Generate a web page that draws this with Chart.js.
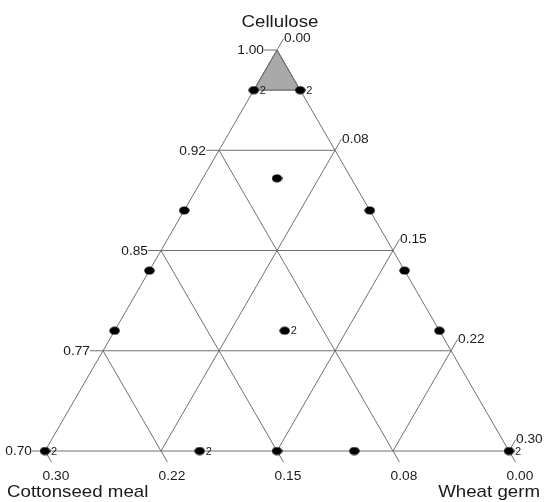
<!DOCTYPE html>
<html>
<head>
<meta charset="utf-8">
<script src="https://cdn.jsdelivr.net/npm/chart.js@4"></script>
<style>
  html, body { margin: 0; padding: 0; background: #fff; }
  #wrap { width: 546px; height: 502px; }
</style>
</head>
<body>
<div id="wrap"><canvas id="chart" width="546" height="502"></canvas></div>
<script>
"use strict";

// design points (mixture proportions)
const cellulose  = [0.97, 0.97, 0.904, 0.88, 0.88, 0.835, 0.835, 0.79, 0.79, 0.79, 0.70, 0.70, 0.70, 0.70, 0.70];
const cottonseed = [0.03, 0.00, 0.048, 0.12, 0.00, 0.165, 0.00, 0.21, 0.00, 0.10, 0.30, 0.20, 0.15, 0.10, 0.00];
const wheatGerm  = [0.00, 0.03, 0.048, 0.00, 0.12, 0.00, 0.165, 0.00, 0.21, 0.11, 0.00, 0.10, 0.15, 0.20, 0.30];
const replicates = [2, 2, 1, 1, 1, 1, 1, 1, 1, 2, 2, 2, 1, 1, 2];

// axis ticks
const celluloseTicks  = [1.00, 0.925, 0.85, 0.775, 0.70];
const celluloseLabels = ['1.00', '0.92', '0.85', '0.77', '0.70'];
const wheatTicks      = [0.00, 0.075, 0.15, 0.225, 0.30];
const wheatLabels     = ['0.00', '0.08', '0.15', '0.22', '0.30'];
const cottonTicks     = [0.30, 0.225, 0.15, 0.075, 0.00];
const cottonLabels    = ['0.30', '0.22', '0.15', '0.08', '0.00'];

// shaded (excluded) region near the cellulose vertex
const shadeCellulose  = [1.00, 0.97, 0.97, 1.00];
const shadeCottonseed = [0.00, 0.03, 0.00, 0.00];
const shadeWheatGerm  = [0.00, 0.00, 0.03, 0.00];

const LO = 0.70, RANGE = 0.30, H = Math.sqrt(3) / 2;
const TICK = 0.028;
const GRID = '#707070';

// pseudo-components -> cartesian
function toXY(c, m, w) {
    const a = (c - LO) / RANGE, cc = w / RANGE;
    return { x: cc + a / 2, y: a * H };
}
function seg(p, q) {
    return {
        data: [p, q], showLine: true, pointRadius: 0,
        borderColor: GRID, borderWidth: 1, fill: false, order: 2
    };
}

const lineSets = [];
// outline
lineSets.push(seg(toXY(1, 0, 0), toXY(LO, RANGE, 0)));
lineSets.push(seg(toXY(1, 0, 0), toXY(LO, 0, RANGE)));
lineSets.push(seg(toXY(LO, RANGE, 0), toXY(LO, 0, RANGE)));

// cellulose lines (horizontal) + ticks to the left
celluloseTicks.forEach(function (c) {
    const l = toXY(c, 1 - c, 0), r = toXY(c, 0, 1 - c);
    if (c < 1 && c > LO) lineSets.push(seg(l, r));
    lineSets.push(seg(l, { x: l.x - TICK, y: l.y }));
});
// wheat germ lines (parallel to left edge) + ticks up-right
wheatTicks.forEach(function (w) {
    const b = toXY(LO, RANGE - w, w), t = toXY(1 - w, 0, w);
    if (w > 0 && w < RANGE) lineSets.push(seg(b, t));
    lineSets.push(seg(t, { x: t.x + TICK * 0.5, y: t.y + TICK * H }));
});
// cottonseed lines (parallel to right edge) + ticks down-right
cottonTicks.forEach(function (m) {
    const t = toXY(1 - m, m, 0), b = toXY(LO, m, RANGE - m);
    if (m > 0 && m < RANGE) lineSets.push(seg(t, b));
    lineSets.push(seg(b, { x: b.x + TICK * 0.5, y: b.y - TICK * H }));
});

// ellipse marker
const dot = document.createElement('canvas');
dot.width = 11; dot.height = 9;
(function () {
    const g = dot.getContext('2d');
    g.fillStyle = '#000';
    g.beginPath();
    g.ellipse(5.5, 4.5, 5.2, 4.0, 0, 0, Math.PI * 2);
    g.fill();
})();

const points = cellulose.map(function (c, i) { return toXY(c, cottonseed[i], wheatGerm[i]); });
const shade = shadeCellulose.map(function (c, i) { return toXY(c, shadeCottonseed[i], shadeWheatGerm[i]); });

function drawText(ctx, txt, x, y, align, base, size) {
    ctx.save();
    ctx.translate(x, y);
    ctx.scale(1.1, 1);
    ctx.font = size + 'px "Liberation Sans", Arial, sans-serif';
    ctx.textAlign = align;
    ctx.textBaseline = base;
    ctx.fillText(txt, 0, 0);
    ctx.restore();
}

const ternaryLabels = {
    id: 'ternaryLabels',
    afterDatasetsDraw: function (chart) {
        const ctx = chart.ctx, xs = chart.scales.x, ys = chart.scales.y;
        const px = function (p) { return { x: xs.getPixelForValue(p.x), y: ys.getPixelForValue(p.y) }; };
        ctx.fillStyle = '#1a1a1a';

        celluloseTicks.forEach(function (c, i) {
            const p = px(toXY(c, 1 - c, 0));
            drawText(ctx, celluloseLabels[i], p.x - 13, p.y + 1, 'right', 'middle', 12.5);
        });
        wheatTicks.forEach(function (w, i) {
            const p = px(toXY(1 - w, 0, w));
            drawText(ctx, wheatLabels[i], p.x + 7, p.y - 11, 'left', 'middle', 12.5);
        });
        cottonTicks.forEach(function (m, i) {
            const p = px(toXY(LO, m, RANGE - m));
            drawText(ctx, cottonLabels[i], p.x + 11, p.y + 19, 'center', 'top', 12.5);
        });

        points.forEach(function (q, i) {
            if (replicates[i] > 1) {
                const p = px(q);
                drawText(ctx, String(replicates[i]), p.x + 6, p.y + 1, 'left', 'middle', 10);
            }
        });

        const apex = px(toXY(1, 0, 0)), bl = px(toXY(LO, RANGE, 0)), br = px(toXY(LO, 0, RANGE));
        drawText(ctx, 'Cellulose', apex.x + 3, apex.y - 23, 'center', 'alphabetic', 17);
        drawText(ctx, 'Cottonseed meal', bl.x - 38, bl.y + 46, 'left', 'alphabetic', 17);
        drawText(ctx, 'Wheat germ', br.x + 31, br.y + 46, 'right', 'alphabetic', 17);
    }
};

new Chart(document.getElementById('chart'), {
    type: 'scatter',
    data: {
        datasets: [{
            data: points,
            pointStyle: dot,
            pointRadius: 5,
            order: 0
        }, {
            data: shade,
            showLine: true,
            pointRadius: 0,
            borderColor: '#555',
            borderWidth: 1,
            backgroundColor: '#a9a9a9',
            fill: 'shape',
            order: 3
        }].concat(lineSets)
    },
    options: {
        responsive: false,
        devicePixelRatio: 1,
        animation: false,
        layout: { padding: 0, autoPadding: false },
        plugins: { legend: { display: false }, tooltip: { enabled: false } },
        scales: {
            x: { type: 'linear', display: false, min: -45 / 464, max: 501 / 464 },
            y: { type: 'linear', display: false, min: -51 / 463, max: 451 / 463 }
        }
    },
    plugins: [ternaryLabels]
});
</script>
</body>
</html>
